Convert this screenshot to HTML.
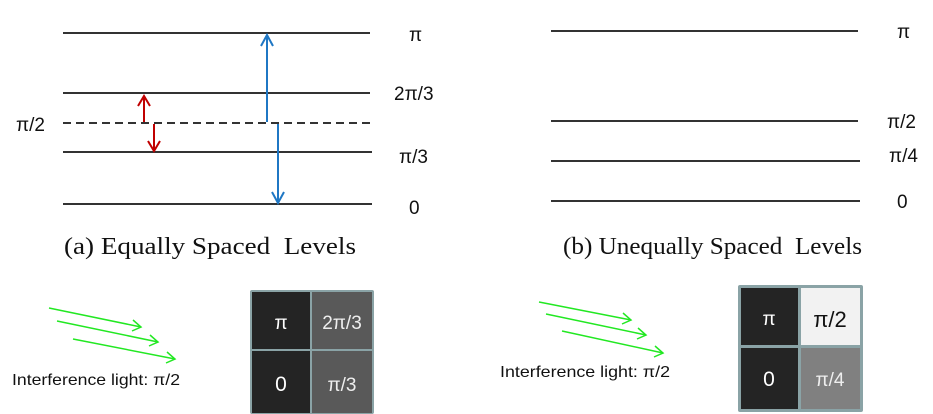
<!DOCTYPE html>
<html><head><meta charset="utf-8"><style>
html,body{margin:0;padding:0;background:#fff;}
svg{display:block;}
.s{font-family:"Liberation Sans",sans-serif;}
.r{font-family:"Liberation Serif",serif;}
</style></head><body>
<svg width="933" height="414" viewBox="0 0 933 414" xmlns="http://www.w3.org/2000/svg">
<g stroke="#333" stroke-width="2">
<line x1="63" y1="33" x2="370" y2="33"/>
<line x1="63" y1="93" x2="370" y2="93"/>
<line x1="63" y1="123" x2="370" y2="123" stroke-dasharray="8,5"/>
<line x1="63" y1="152" x2="372" y2="152"/>
<line x1="63" y1="204" x2="372" y2="204"/>
<line x1="551" y1="31" x2="858" y2="31"/>
<line x1="551" y1="121" x2="858" y2="121"/>
<line x1="551" y1="161" x2="860" y2="161"/>
<line x1="551" y1="201" x2="860" y2="201"/>
</g>
<g stroke="#c00000" stroke-width="2" fill="none">
<line x1="144" y1="122" x2="144" y2="97"/><polyline points="138,106 144,96 150,106"/>
<line x1="154" y1="124" x2="154" y2="151"/><polyline points="148,141 154,151 160,141"/>
</g>
<g stroke="#1f77c4" stroke-width="2" fill="none">
<line x1="267" y1="122" x2="267" y2="35"/><polyline points="261,46 267,35 273,46"/>
<line x1="278" y1="124" x2="278" y2="203"/><polyline points="272,192 278,203 284,192"/>
</g>
<g class="s" font-size="19" fill="#111">
<text x="409" y="41">π</text>
<text x="394" y="100">2π/3</text>
<text x="16" y="131">π/2</text>
<text x="399" y="163">π/3</text>
<text x="409" y="214">0</text>
<text x="897" y="38">π</text>
<text x="887" y="128">π/2</text>
<text x="889" y="162">π/4</text>
<text x="897" y="208">0</text>
</g>
<text class="r" x="64" y="254" font-size="24" fill="#111" textLength="292" lengthAdjust="spacingAndGlyphs">(a) Equally Spaced&#160;&#160;Levels</text>
<text class="r" x="563" y="254" font-size="24" fill="#111" textLength="299" lengthAdjust="spacingAndGlyphs">(b) Unequally Spaced&#160;&#160;Levels</text>
<g stroke="#22e822" stroke-width="1.5" fill="none">
<line x1="49" y1="308" x2="141" y2="327"/><polyline points="133,320 141,327 132,331"/>
<line x1="57" y1="321" x2="158" y2="342"/><polyline points="150,335 158,342 149,346"/>
<line x1="73" y1="339" x2="175" y2="359"/><polyline points="167,352 175,359 166,363"/>
<line x1="539" y1="302" x2="631" y2="320"/><polyline points="623,313 631,320 622,324"/>
<line x1="546" y1="314" x2="646" y2="335"/><polyline points="638,328 646,335 637,339"/>
<line x1="562" y1="331" x2="663" y2="353"/><polyline points="655,346 663,353 654,357"/>
</g>
<text class="s" x="12" y="385" font-size="16" fill="#111" textLength="168" lengthAdjust="spacingAndGlyphs">Interference light: π/2</text>
<text class="s" x="500" y="377" font-size="16" fill="#111" textLength="170" lengthAdjust="spacingAndGlyphs">Interference light: π/2</text>
<rect x="250" y="290" width="124" height="124" fill="#8aa3a6" rx="2"/>
<rect x="252" y="292" width="58" height="57" fill="#242424"/>
<rect x="312" y="292" width="60" height="57" fill="#595959"/>
<rect x="252" y="351" width="58" height="62" fill="#242424"/>
<rect x="312" y="351" width="60" height="62" fill="#595959"/>
<rect x="738" y="285" width="125" height="127" fill="#8aa3a6" rx="2"/>
<rect x="741" y="288" width="57" height="57" fill="#242424"/>
<rect x="801" y="288" width="59" height="57" fill="#f2f2f2"/>
<rect x="741" y="348" width="57" height="61" fill="#242424"/>
<rect x="801" y="348" width="59" height="61" fill="#808080"/>
<g class="s" font-size="19" text-anchor="middle">
<text x="281" y="329" fill="#fff">π</text>
<text x="342" y="329" fill="#eee">2π/3</text>
<text x="281" y="391" fill="#fff" font-size="21">0</text>
<text x="342" y="391" fill="#eee">π/3</text>
<text x="769" y="325" fill="#fff">π</text>
<text x="830" y="327" fill="#111" font-size="22">π/2</text>
<text x="769" y="386" fill="#fff" font-size="21">0</text>
<text x="830" y="386" fill="#eee">π/4</text>
</g>
</svg>
</body></html>
